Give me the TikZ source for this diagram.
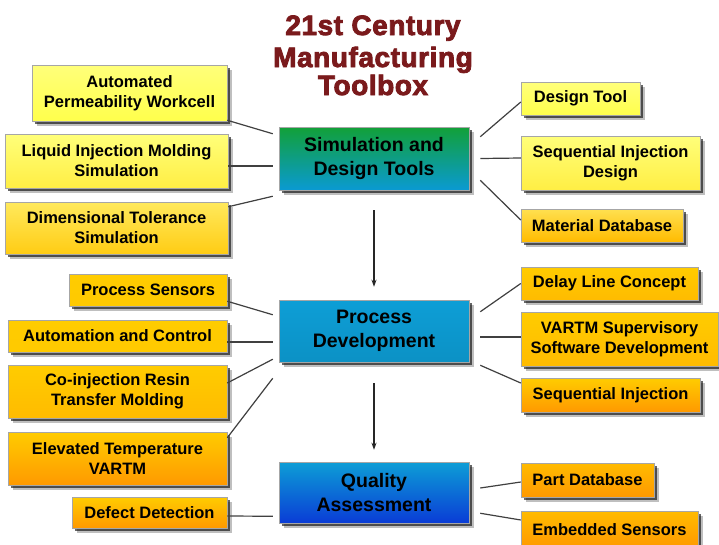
\documentclass[tikz,border=0pt]{standalone}
\usepackage{fontspec}
\setmainfont{Liberation Sans}
\newfontfamily\titlefont[FakeBold=3,LetterSpace=2]{Liberation Sans Bold}
\usetikzlibrary{shadows,calc,arrows.meta}
\definecolor{titlered}{HTML}{7A1A1C}
\definecolor{yA}{HTML}{FFFF7A}
\definecolor{yB}{HTML}{FFFF4C}
\definecolor{yC}{HTML}{FFEE44}
\definecolor{yD}{HTML}{FFE050}
\definecolor{yE}{HTML}{FFCC14}
\definecolor{oA}{HTML}{FFCC00}
\definecolor{oB}{HTML}{FFBB00}
\definecolor{oC}{HTML}{FF9900}
\definecolor{sgreen}{HTML}{12A038}
\definecolor{scyan}{HTML}{0A9AD2}
\definecolor{pcyan}{HTML}{0D9ED6}
\definecolor{qblue}{HTML}{0A3CD6}
\tikzset{
  box/.style={draw=black!35, line width=0.5pt, inner sep=0pt, align=center, text=black,
    drop shadow={shadow xshift=4.5pt, shadow yshift=-4.5pt, opacity=.25, fill=black},
    drop shadow={shadow xshift=3pt, shadow yshift=-3pt, opacity=.6, fill=black}},
  ybox/.style={box, font=\fontsize{16.5}{20}\selectfont\bfseries},
  cbox/.style={box, font=\fontsize{19.5}{24}\selectfont\bfseries},
  conn/.style={black!75, line width=1.2pt},
  flow/.style={black!85, line width=1.2pt, -{Stealth[length=7pt,width=5pt]}},
  ttl/.style={anchor=base, inner sep=0pt, text=titlered, font=\titlefont\fontsize{28}{30}\selectfont}
}
\begin{document}
\begin{tikzpicture}[x=1pt,y=-1pt]
\useasboundingbox (0,0) rectangle (719,544);
\fill[white] (0,0) rectangle (719,544);

% title
\node[ttl] (t1) at (373,35) {21st Century};
\node[ttl] (t2) at (373,67) {Manufacturing};
\node[ttl] (t3) at (373,95) {Toolbox};

% central boxes
\node[cbox, minimum width=190, minimum height=63, top color=sgreen, bottom color=scyan] (sdt) at (374,158.5) {Simulation and\\Design Tools};
\node[cbox, minimum width=190, minimum height=62, top color=pcyan, bottom color=pcyan!92!black] (pd) at (374,331) {Process\\Development};
\node[cbox, minimum width=190, minimum height=61, top color=pcyan, bottom color=qblue] (qa) at (374,492.5) {Quality\\Assessment};

% left boxes
\node[ybox, minimum width=195, minimum height=56, top color=yA, bottom color=yB] (apw) at (129.5,93) {Automated\\Permeability Workcell};
\node[ybox, minimum width=223, minimum height=54, top color=yA, bottom color=yC] (lims) at (116.5,161) {Liquid Injection Molding\\Simulation};
\node[ybox, minimum width=223, minimum height=52, top color=yD!70!yA, bottom color=yE] (dts) at (116.5,228) {Dimensional Tolerance\\Simulation};
\node[ybox, minimum width=158, minimum height=32, top color=oA, bottom color=oA!85!oB] (ps) at (148,290) {Process Sensors};
\node[ybox, minimum width=219, minimum height=32, top color=oA, bottom color=oA!85!oB] (ac) at (117.5,336) {Automation and Control};
\node[ybox, minimum width=219, minimum height=53, top color=oA, bottom color=oB] (crtm) at (117.5,391.5) {Co-injection Resin\\Transfer Molding};
\node[ybox, minimum width=219, minimum height=53, top color=oA, bottom color=oC] (etv) at (117.5,458.5) {Elevated Temperature\\VARTM};
\node[ybox, minimum width=155, minimum height=31, top color=oA, bottom color=oC] (dd) at (149.5,512.5) {Defect Detection};

% right boxes
\node[ybox, minimum width=119, minimum height=33, top color=yA, bottom color=yB] (dt) at (580.5,98.5) {Design Tool};
\node[ybox, minimum width=179, minimum height=54, top color=yA, bottom color=yC] (sid) at (610.5,163) {Sequential Injection\\Design};
\node[ybox, minimum width=162, minimum height=33, top color=yD, bottom color=oB] (md) at (602,225.5) {Material Database};
\node[ybox, minimum width=177, minimum height=33, top color=oA, bottom color=oB] (dlc) at (609.5,283.5) {Delay Line Concept};
\node[ybox, minimum width=197, minimum height=54, top color=oA, bottom color=oB] (vsd) at (619.5,339) {VARTM Supervisory\\Software Development};
\node[ybox, minimum width=179, minimum height=34, top color=oA, bottom color=oC] (si) at (610.5,395) {Sequential Injection};
\node[ybox, minimum width=133, minimum height=34, top color=oB, bottom color=oC] (pdb) at (587.5,480) {Part Database};
\node[ybox, minimum width=177, minimum height=37, top color=oB, bottom color=oC] (es) at (609.5,529.5) {Embedded Sensors};

% flow arrows
\draw[flow] ($(sdt.south)+(0,20)$) -- ($(pd.north)+(0,-13)$);
\draw[flow] ($(pd.south)+(0,21)$) -- ($(qa.north)+(0,-12)$);

% left connectors
\draw[conn] ($(apw.south east)+(0,-1)$) -- ($(sdt.north west)+(-6,7)$);
\draw[conn] ($(lims.east)+(0,5)$) -- ($(sdt.west)+(-6,7.5)$);
\draw[conn] ($(dts.north east)+(0,5)$) -- ($(sdt.south west)+(-6,6)$);
\draw[conn] ($(ps.south east)+(0,-5)$) -- ($(pd.north west)+(-6,15)$);
\draw[conn] ($(ac.east)+(0,6)$) -- ($(pd.west)+(-6,11)$);
\draw[conn] ($(crtm.east)+(0,-8.5)$) -- ($(pd.south west)+(-6,-3)$);
\draw[conn] ($(etv.north east)+(0,6)$) -- ($(pd.south west)+(-6,16)$);
\draw[conn] ($(dd.east)+(0,3.5)$) -- ($(qa.south west)+(-6,-7)$);

% right connectors
\draw[conn] ($(sdt.north east)+(11,10)$) -- ($(dt.west)+(0,3.5)$);
\draw[conn] ($(sdt.east)+(11,0)$) -- ($(sid.west)+(0,-5)$);
\draw[conn] ($(sdt.south east)+(11,-10)$) -- ($(md.west)+(0,-5.5)$);
\draw[conn] ($(pd.north east)+(11,12)$) -- (dlc.west);
\draw[conn] ($(pd.east)+(11,6)$) -- ($(vsd.west)+(0,-2)$);
\draw[conn] ($(pd.south east)+(11,3)$) -- ($(si.west)+(0,-12)$);
\draw[conn] ($(qa.east)+(11,-4.5)$) -- ($(pdb.west)+(0,2)$);
\draw[conn] ($(qa.south east)+(11,-10)$) -- ($(es.west)+(0,-9.5)$);
\end{tikzpicture}
\end{document}
